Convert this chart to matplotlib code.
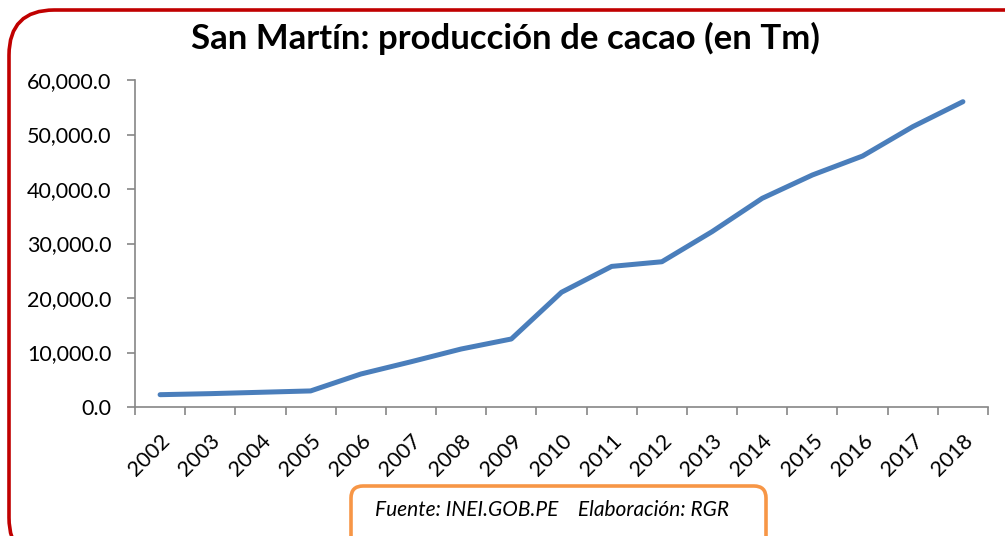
import matplotlib.pyplot as plt
import numpy as np
from matplotlib.patches import FancyBboxPatch

# datos
anios = ["2002", "2003", "2004", "2005", "2006", "2007", "2008", "2009", "2010",
         "2011", "2012", "2013", "2014", "2015", "2016", "2017", "2018"]
produccion = [2260, 2450, 2700, 2950, 6050, 8300, 10640, 12480, 21050,
              25800, 26650, 32170, 38290, 42570, 46050, 51430, 56020]
yticks = [0, 10000, 20000, 30000, 40000, 50000, 60000]

plt.rcParams['font.family'] = ['Lato', 'DejaVu Sans']

fig = plt.figure(figsize=(10.05, 5.36), dpi=100)
ax = fig.add_axes([135 / 1005, 1 - 407 / 536, 853 / 1005, 327 / 536])

x = np.arange(len(anios))
ax.plot(x, produccion, color='#4A7EBB', lw=3.6, solid_capstyle='round',
        solid_joinstyle='round')

ax.set_xlim(-0.5, len(anios) - 0.5)
ax.set_ylim(0, 60000)
ax.set_yticks(yticks)
ax.set_yticklabels([f"{v:,.1f}" for v in yticks], fontsize=15.5)

# ticks del eje x en los limites de categoria
ax.set_xticks(np.arange(len(anios) + 1) - 0.5)
ax.set_xticklabels([])
ax.set_xticks(x, minor=True)
ax.set_xticklabels(anios, minor=True, rotation=45, ha='right',
                   rotation_mode='anchor', fontsize=15.5)
ax.tick_params(axis='x', which='minor', length=0, pad=17)
ax.tick_params(axis='x', which='major', length=6, width=1.2, color='#868686',
               direction='out')
ax.tick_params(axis='y', length=6, width=1.2, color='#868686', direction='out',
               pad=11)

for s in ['top', 'right']:
    ax.spines[s].set_visible(False)
for s in ['left', 'bottom']:
    ax.spines[s].set_color('#868686')
    ax.spines[s].set_linewidth(1.2)

fig.text(505 / 1005, 1 - 38 / 536, "San Martín: producción de cacao (en Tm)",
         ha='center', va='center', fontsize=25, fontweight='bold')

# borde rojo redondeado
borde = FancyBboxPatch((9 / 1005, -0.05), 1.05, 1 - 10 / 536 + 0.05,
                       boxstyle="round,pad=0,rounding_size=0.045",
                       transform=fig.transFigure, fill=False,
                       edgecolor='#C00000', lw=2.6, mutation_aspect=1005 / 536)
fig.patches.append(borde)

# recuadro de fuente
caja = FancyBboxPatch((351 / 1005, -0.05), 415 / 1005, 1 - 486 / 536 + 0.05,
                      boxstyle="round,pad=0,rounding_size=0.012",
                      transform=fig.transFigure, fill=False,
                      edgecolor='#F79646', lw=2.6, mutation_aspect=1005 / 536)
fig.patches.append(caja)
fig.text(552 / 1005, 1 - 510 / 536,
         "Fuente: INEI.GOB.PE    Elaboración: RGR",
         ha='center', va='center', fontsize=15, fontstyle='italic')

fig.savefig("out.png", dpi=100)
